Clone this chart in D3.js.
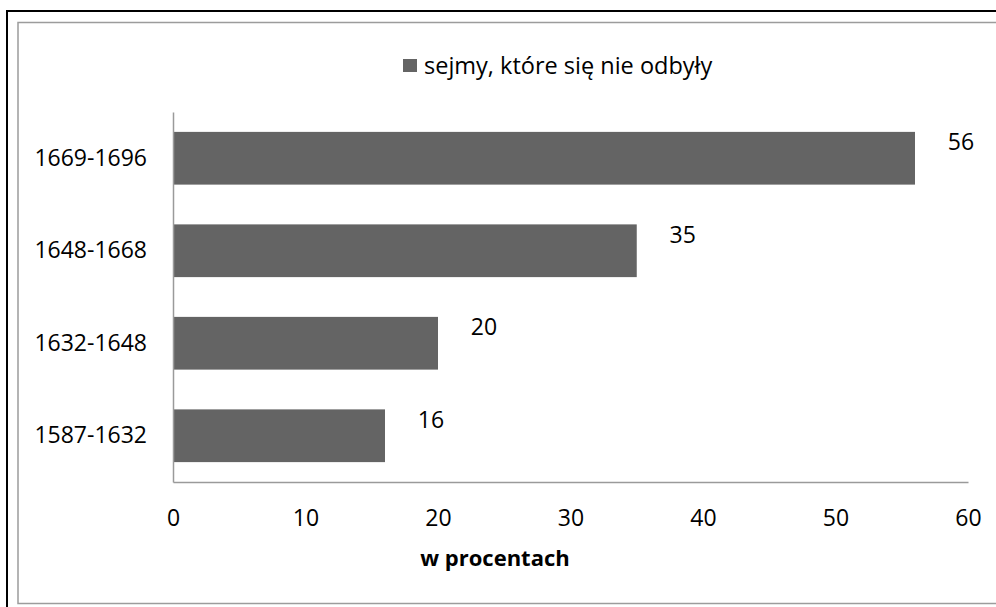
<!DOCTYPE html>
<html>
<head>
<meta charset="utf-8">
<script src="https://cdn.jsdelivr.net/npm/d3@7"></script>
<style>
  body { margin: 0; background: #fff; }
  text { font-family: "Open Sans", sans-serif; fill: #000; }
</style>
</head>
<body>
<div id="container"></div>
<script>
let w = 996;
let h = 607;

// data
let periods = ["1669-1696", "1648-1668", "1632-1648", "1587-1632"];
let percents = [56, 35, 20, 16];
let xTicks = [0, 10, 20, 30, 40, 50, 60];
let seriesName = "sejmy, które się nie odbyły";
let xTitle = "w procentach";

let plotLeft = 173, plotRight = 968, plotTop = 112, plotBottom = 482;
let barColor = "#646464";

let viz = d3.select("#container").append("svg")
    .attr("width", w)
    .attr("height", h)
    .style("display", "block");

// frames
viz.append("rect")
  .attr("x", 7).attr("y", 11)
  .attr("width", 1000).attr("height", 1000)
  .attr("fill", "none").attr("stroke", "#000").attr("stroke-width", 2);
viz.append("rect")
  .attr("x", 18).attr("y", 22.5)
  .attr("width", 1000).attr("height", 581)
  .attr("fill", "#fff").attr("stroke", "#9c9c9c").attr("stroke-width", 1.5);

// scales
let xScale = d3.scaleLinear().domain([0, 60]).range([plotLeft, plotRight]);
let yScale = d3.scaleBand().domain(periods).range([plotTop, plotBottom])
    .paddingInner(0.43).paddingOuter(0.215);

// bars
viz.selectAll(".bar").data(percents).enter()
  .append("rect")
    .attr("class", "bar")
    .attr("x", xScale(0))
    .attr("y", function(d, i){ return yScale(periods[i]); })
    .attr("width", function(d){ return xScale(d) - xScale(0); })
    .attr("height", yScale.bandwidth())
    .attr("fill", barColor);

// axes
let xAxis = d3.axisBottom(xScale).tickValues(xTicks).tickSize(0).tickPadding(28);
let xG = viz.append("g").attr("transform", "translate(0," + plotBottom + ")").call(xAxis);
xG.select(".domain").attr("stroke", "#9a9a9a").attr("stroke-width", 1.5);
xG.selectAll("text").style("font-size", "23px").style("font-family", "Open Sans").attr("fill", "#000");

let yAxis = d3.axisLeft(yScale).tickSize(0).tickPadding(26);
let yG = viz.append("g").attr("transform", "translate(" + plotLeft + ",0)").call(yAxis);
yG.select(".domain").attr("stroke", "#9a9a9a").attr("stroke-width", 1.5);
yG.selectAll("text").style("font-size", "23px").style("font-family", "Open Sans").attr("fill", "#000");

// data labels
viz.selectAll(".lbl").data(percents).enter()
  .append("text")
    .attr("class", "lbl")
    .attr("x", function(d){ return xScale(d) + 46; })
    .attr("y", function(d, i){ return yScale(periods[i]) + yScale.bandwidth() / 2 - 8; })
    .attr("text-anchor", "middle")
    .style("font-size", "23px")
    .text(function(d){ return d; });

// axis title
viz.append("text")
  .attr("x", 495).attr("y", 566)
  .attr("text-anchor", "middle")
  .style("font-size", "22px")
  .style("font-weight", "bold")
  .text(xTitle);

// legend
viz.append("rect")
  .attr("x", 403).attr("y", 59)
  .attr("width", 14).attr("height", 13)
  .attr("fill", barColor);
viz.append("text")
  .attr("x", 424).attr("y", 65.5)
  .attr("dy", "0.35em")
  .style("font-size", "23.5px")
  .text(seriesName);
</script>
</body>
</html>
